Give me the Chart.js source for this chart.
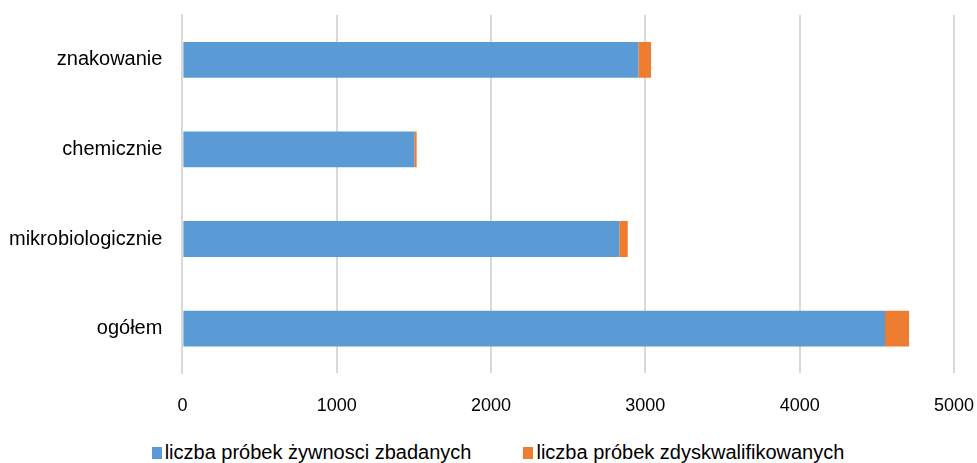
<!DOCTYPE html>
<html>
<head>
<meta charset="utf-8">
<script src="https://cdn.jsdelivr.net/npm/chart.js@4/dist/chart.umd.min.js"></script>
<style>
  html, body { margin: 0; padding: 0; background: #fff; }
  #wrap { position: relative; width: 977px; height: 463px; }
  #box { position: absolute; left: 0; top: 0; width: 977px; height: 420px; }
  #legend {
    position: absolute; left: 0; top: 441px; width: 977px; height: 22px;
    display: flex; justify-content: center; align-items: center;
    font-family: 'Liberation Sans', Arial, sans-serif; font-size: 20px; color: #000;
    padding-left: 19px; box-sizing: border-box; white-space: nowrap;
  }
  #legend .item { display: flex; align-items: center; margin: 0 26px; }
  #legend .sw { width: 10px; height: 12px; margin-right: 3px; margin-top: 2px; }
</style>
</head>
<body>
<div id="wrap">
  <div id="box"><canvas id="chart"></canvas></div>
  <div id="legend"></div>
</div>
<script>
const categories = ["znakowanie", "chemicznie", "mikrobiologicznie", "ogółem"];
const tested = [2955, 1502, 2831, 4553];
const disqualified = [82, 16, 55, 156];
const seriesNames = ["liczba próbek żywnosci zbadanych", "liczba próbek zdyskwalifikowanych"];
const xTicks = [0, 1000, 2000, 3000, 4000, 5000];

Chart.defaults.font.family = "'Liberation Sans', Arial, sans-serif";
Chart.defaults.color = "#000";

// legend drawn as html under the canvas, built from the chart's own items
const htmlLegend = {
  id: "htmlLegend",
  afterUpdate(chart) {
    const el = document.getElementById("legend");
    el.innerHTML = "";
    const items = chart.options.plugins.legend.labels.generateLabels(chart);
    items.forEach(it => {
      const row = document.createElement("span");
      row.className = "item";
      const sw = document.createElement("span");
      sw.className = "sw";
      sw.style.background = it.fillStyle;
      const txt = document.createElement("span");
      txt.textContent = it.text;
      row.appendChild(sw);
      row.appendChild(txt);
      el.appendChild(row);
    });
  }
};

const ctx = document.getElementById("chart").getContext("2d");

new Chart(ctx, {
  type: "bar",
  data: {
    labels: categories,
    datasets: [
      {
        label: seriesNames[0],
        data: tested,
        backgroundColor: "#5b9bd5",
        categoryPercentage: 0.8,
        barPercentage: 0.5
      },
      {
        label: seriesNames[1],
        data: disqualified,
        backgroundColor: "#ed7d31",
        categoryPercentage: 0.8,
        barPercentage: 0.5
      }
    ]
  },
  plugins: [htmlLegend],
  options: {
    indexAxis: "y",
    responsive: true,
    maintainAspectRatio: false,
    animation: false,
    layout: { padding: { top: 0, left: 6, right: 6, bottom: 0 } },
    plugins: {
      tooltip: { enabled: false },
      legend: { display: false }
    },
    scales: {
      x: {
        stacked: true,
        min: 0,
        max: 5000,
        afterBuildTicks: (axis) => { axis.ticks = xTicks.map(v => ({ value: v })); },
        grid: { color: "#d9d9d9", lineWidth: 2, drawTicks: true, tickLength: 19, tickColor: "rgba(0,0,0,0)" },
        border: { display: false },
        ticks: { font: { size: 18 }, padding: 3, callback: (v) => String(v) }
      },
      y: {
        stacked: true,
        grid: { drawOnChartArea: false, drawTicks: true, tickLength: 17, tickColor: "rgba(0,0,0,0)" },
        border: { display: true, color: "#d9d9d9", width: 2 },
        ticks: { font: { size: 20 }, padding: 3 }
      }
    }
  }
});
</script>
</body>
</html>
